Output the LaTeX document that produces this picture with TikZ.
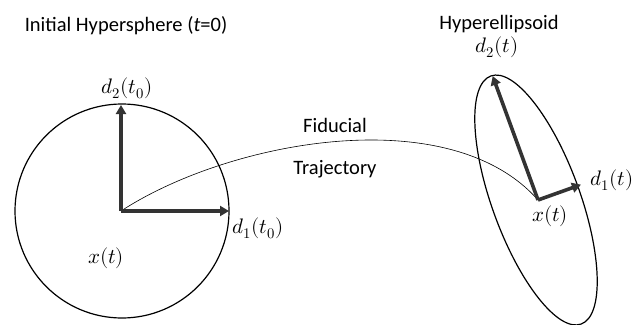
\documentclass[tikz,border=0pt]{standalone}
\usepackage{fontspec}
\setmainfont{Carlito}
\usepackage{unicode-math}
\usetikzlibrary{arrows.meta}
\tikzset{
  vec/.style={line width=3.6pt, draw=black!80, -{Triangle[length=9pt,width=10pt]}, shorten >=-1pt},
  lbl/.style={font=\fontsize{20.5}{24}\selectfont, inner sep=0pt},
  mlbl/.style={font=\fontsize{21}{25}\selectfont, inner sep=0pt},
  outline/.style={line width=1.2pt, draw=black}
}
\begin{document}
\begin{tikzpicture}[x=1pt,y=-1pt]
\useasboundingbox (0,0) rectangle (644,324);
% circle
\coordinate (o1) at (121,211);
\draw[outline] (122,211) circle (107);
\coordinate (d2a) at (121,106);
\coordinate (d1a) at (228,211);
% ellipse
\coordinate (o2) at (538,200);
\draw[outline, rotate around={-70:(536,200)}] (536,200) ellipse (132 and 44);
\coordinate (d2b) at (493,77);
\coordinate (d1b) at (580,185);
% trajectory
\draw[line width=0.6pt] (o1) .. controls (230,140) and (450,100) .. (o2);
% vectors
\draw[vec] (o1) -- (d2a);
\draw[vec] (o1) -- (d1a);
\draw[vec] (o2) -- (d2b);
\draw[vec] (o2) -- (d1b);
% labels
\node[lbl] (t1) at (126,26) {Initial Hypersphere (\textit{t}=0)};
\node[lbl] (t2) at (499,24) {Hyperellipsoid};
\node[lbl] (fid) at (335,125) {Fiducial};
\node[lbl] (tra) at (335,169) {Trajectory};
\node[mlbl] (l1) at (127,88) {$d_2(t_0)$};
\node[mlbl] (l2) at (258,228) {$d_1(t_0)$};
\node[mlbl] (l3) at (106,258) {$x(t)$};
\node[mlbl] (l4) at (497,47) {$d_2(t)$};
\node[mlbl] (l5) at (612,180) {$d_1(t)$};
\node[mlbl] (l6) at (550,216) {$x(t)$};
\end{tikzpicture}
\end{document}
